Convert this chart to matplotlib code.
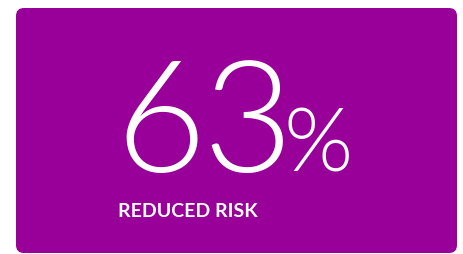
import matplotlib
matplotlib.use("Agg")
import matplotlib.pyplot as plt
from matplotlib.patches import FancyBboxPatch

value = [63]
unit = ["%"]
label = ["REDUCED RISK"]

W, H = 463, 254
fig = plt.figure(figsize=(W / 100, H / 100), dpi=100)
ax = fig.add_axes([0, 0, 1, 1])
ax.set_xlim(0, W)
ax.set_ylim(H, 0)
ax.axis("off")

card = FancyBboxPatch((16, 8), 441, 245, boxstyle="round,pad=0,rounding_size=8",
                      facecolor="#990099", edgecolor="none")
ax.add_patch(card)

digits = f"{value[0]}"
digit_x = [115, 202]
for ch, x in zip(digits, digit_x):
    ax.text(x, 172, ch, fontsize=112, family="Lato", weight=300,
            color="white", ha="left", va="baseline")
ax.text(284, 172, unit[0], fontsize=64, family="Lato", weight=300,
        color="white", ha="left", va="baseline")
ax.text(118, 217, label[0], fontsize=14, family="Lato", weight="bold",
        color="white", ha="left", va="baseline")

fig.savefig("out.png", dpi=100)
